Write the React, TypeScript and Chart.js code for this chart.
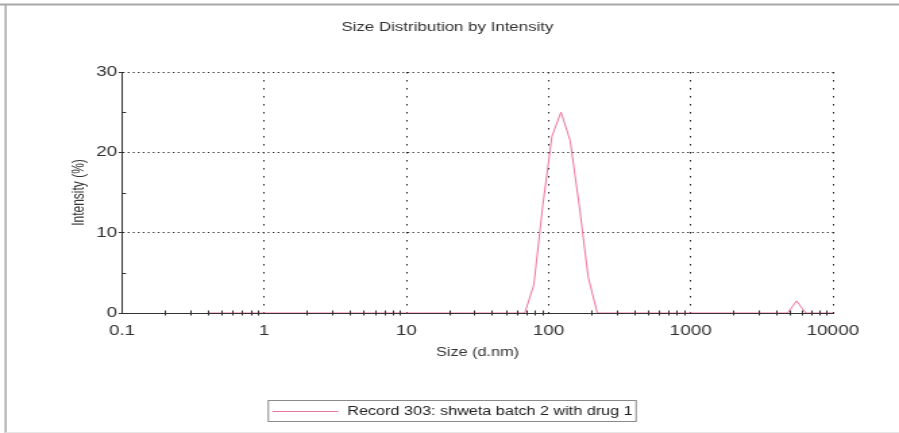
import React, { useEffect, useRef } from 'react';
import { Chart, registerables } from 'chart.js';

Chart.register(...registerables);

// ---- data ----
const sizes = [0.4, 68.06, 78.82, 91.28, 105.7, 122.4, 141.8, 164.2, 190.1, 220.2, 4801, 5560, 6439, 10000];
const intensities = [0, 0, 3.5, 13.5, 22, 25, 21.5, 13.5, 4.5, 0, 0, 1.5, 0, 0];

const xTickValues = [0.1, 1, 10, 100, 1000, 10000];
const xTickLabels = ['0.1', '1', '10', '100', '1000', '10000'];
const xMinorMultipliers = [2, 3, 4, 5, 6, 7, 8, 9];
const yTickValues = [0, 10, 20, 30];
const yMinorTicks = [5, 15, 25];

const chartTitle = 'Size Distribution by Intensity';
const xTitle = 'Size (d.nm)';
const yTitle = 'Intensity (%)';
const seriesLabel = 'Record 303: shweta batch 2 with drug 1';

// ---- layout constants ----
const CSS_W = 899;
const CSS_H = 433;
const INT_W = 666; // internal canvas width (reference is horizontally stretched)
const FONT = '"Liberation Sans", Arial, Helvetica, sans-serif';
const LINE_COLOR = '#ec76a0';

const framePlugin = {
  id: 'frame',
  beforeDraw(chart: any) {
    const ctx = chart.ctx;
    ctx.save();
    ctx.fillStyle = '#ffffff';
    ctx.fillRect(0, 0, chart.width, chart.height);
    ctx.strokeStyle = '#a8a8a8';
    ctx.lineWidth = 2;
    ctx.beginPath();
    ctx.moveTo(0, 4.5);
    ctx.lineTo(chart.width, 4.5);
    ctx.stroke();
    ctx.lineWidth = 1.5;
    ctx.beginPath();
    ctx.moveTo(4.2, 4.5);
    ctx.lineTo(4.2, chart.height);
    ctx.stroke();
    ctx.strokeStyle = '#e6e6e6';
    ctx.lineWidth = 1;
    ctx.beginPath();
    ctx.moveTo(4.2, chart.height - 0.5);
    ctx.lineTo(chart.width, chart.height - 0.5);
    ctx.stroke();
    ctx.restore();
  },
};

const minorTicksPlugin = {
  id: 'minorTicks',
  afterDraw(chart: any) {
    const ctx = chart.ctx;
    const xs = chart.scales.x;
    const ys = chart.scales.y;
    const area = chart.chartArea;
    ctx.save();
    ctx.strokeStyle = '#333';
    ctx.lineWidth = 1;
    ctx.beginPath();
    for (let i = 0; i < xTickValues.length - 1; i++) {
      for (const m of xMinorMultipliers) {
        const px = Math.round(xs.getPixelForValue(xTickValues[i] * m)) + 0.5;
        ctx.moveTo(px, area.bottom - 2.5);
        ctx.lineTo(px, area.bottom + 2.5);
      }
    }
    for (const v of yMinorTicks) {
      const py = Math.round(ys.getPixelForValue(v)) + 0.5;
      ctx.moveTo(area.left, py);
      ctx.lineTo(area.left + 3, py);
    }
    ctx.stroke();
    ctx.restore();
  },
};

const boxLegendPlugin = {
  id: 'boxLegend',
  afterDraw(chart: any) {
    const ctx = chart.ctx;
    const ds = chart.data.datasets[0];
    ctx.save();
    ctx.font = `12px ${FONT}`;
    const tw = ctx.measureText(ds.label).width;
    const lineLen = 49;
    const total = 3 + lineLen + 6.5 + tw + 2.5;
    const left = chart.width / 2 + 2 - total / 2;
    const top = 400.5;
    const h = 21;
    const cy = top + h / 2;
    ctx.strokeStyle = '#8a8a8a';
    ctx.lineWidth = 1;
    ctx.strokeRect(left, top, total, h);
    ctx.strokeStyle = ds.borderColor;
    ctx.beginPath();
    ctx.moveTo(left + 3, Math.round(cy) + 0.5);
    ctx.lineTo(left + 3 + lineLen, Math.round(cy) + 0.5);
    ctx.stroke();
    ctx.fillStyle = '#222';
    ctx.textBaseline = 'middle';
    ctx.textAlign = 'left';
    ctx.fillText(ds.label, left + 3 + lineLen + 6.5, cy + 0.5);
    ctx.restore();
  },
};

export default function App() {
  const canvasRef = useRef<HTMLCanvasElement | null>(null);

  useEffect(() => {
    const canvas = canvasRef.current;
    if (!canvas) return;
    const points = sizes.map((s, i) => ({ x: s, y: intensities[i] }));
    const chart = new Chart(canvas, {
      type: 'line',
      data: {
        datasets: [
          {
            label: seriesLabel,
            data: points,
            borderColor: LINE_COLOR,
            backgroundColor: LINE_COLOR,
            borderWidth: 1,
            pointRadius: 0,
            tension: 0,
            fill: false,
          },
        ],
      },
      options: {
        responsive: false,
        animation: false,
        devicePixelRatio: 1,
        events: [],
        layout: { padding: { left: 46, right: 49, top: 0, bottom: 60 } },
        plugins: {
          legend: { display: false },
          tooltip: { enabled: false },
          title: {
            display: true,
            text: chartTitle,
            color: '#333',
            font: { family: FONT, size: 12.5, weight: 'normal' },
            padding: { top: 20.5, bottom: 36.5 },
          },
        },
        scales: {
          x: {
            type: 'logarithmic',
            min: 0.1,
            max: 10000,
            afterBuildTicks: (s: any) => {
              s.ticks = xTickValues.map((v) => ({ value: v }));
            },
            afterFit: (s: any) => {
              s.height = 60;
            },
            ticks: {
              autoSkip: false,
              maxRotation: 0,
              padding: 10,
              color: '#333',
              font: { family: FONT, size: 14 },
              callback: (v: any) => {
                const i = xTickValues.indexOf(Number(v));
                return i >= 0 ? xTickLabels[i] : '';
              },
            },
            grid: { color: '#222', lineWidth: 1, drawTicks: false },
            border: { display: true, color: '#333', width: 1, dash: [1.5, 6.5] },
            title: {
              display: true,
              text: xTitle,
              color: '#333',
              font: { family: FONT, size: 12 },
              padding: { top: 0, bottom: 12.8 },
            },
          },
          y: {
            type: 'linear',
            min: 0,
            max: 30,
            afterBuildTicks: (s: any) => {
              s.ticks = yTickValues.map((v) => ({ value: v }));
            },
            afterFit: (s: any) => {
              s.width = 44.4;
            },
            ticks: {
              padding: 1,
              color: '#333',
              font: { family: FONT, size: 14 },
            },
            grid: { color: '#222', lineWidth: 1, drawTicks: true, tickLength: 2.5, tickColor: '#333' },
            border: { display: true, color: '#333', width: 1, dash: [1.2, 2.5] },
            title: {
              display: true,
              text: yTitle,
              color: '#333',
              font: { family: FONT, size: 12 },
              padding: { top: 5, bottom: 0 },
            },
          },
        },
      } as any,
      plugins: [framePlugin, minorTicksPlugin, boxLegendPlugin],
    });
    return () => chart.destroy();
  }, []);

  return (
    <div style={{ position: 'fixed', left: 0, top: 0, width: CSS_W, height: CSS_H, background: '#fff' }}>
      <canvas
        ref={canvasRef}
        width={INT_W}
        height={CSS_H}
        style={{ width: `${CSS_W}px`, height: `${CSS_H}px`, display: 'block' }}
      />
    </div>
  );
}
